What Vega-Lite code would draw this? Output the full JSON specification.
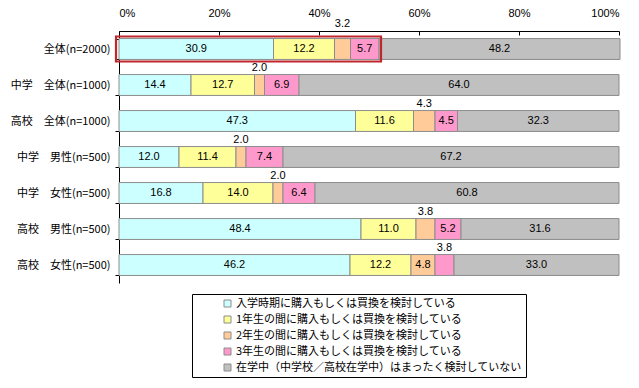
{
  "$schema": "https://vega.github.io/schema/vega-lite/v6.json",
  "width": 500,
  "height": 252,
  "autosize": {"type": "none"},
  "padding": {"left": 119, "top": 31, "right": 20, "bottom": 105},
  "background": "white",
  "config": {
    "view": {"stroke": null},
    "font": "Noto Sans CJK JP",
    "axis": {"labelColor": "black", "domainColor": "black", "tickColor": "black"}
  },
  "data": {
    "values": [
      {"group": "全体(n=2000)", "cat": "入学時期に購入もしくは買換を検討している", "k": 1, "value": 30.9},
      {"group": "全体(n=2000)", "cat": "1年生の間に購入もしくは買換を検討している", "k": 2, "value": 12.2},
      {"group": "全体(n=2000)", "cat": "2年生の間に購入もしくは買換を検討している", "k": 3, "value": 3.2},
      {"group": "全体(n=2000)", "cat": "3年生の間に購入もしくは買換を検討している", "k": 4, "value": 5.7},
      {"group": "全体(n=2000)", "cat": "在学中（中学校／高校在学中）はまったく検討していない", "k": 5, "value": 48.2},
      {"group": "中学　全体(n=1000)", "cat": "入学時期に購入もしくは買換を検討している", "k": 1, "value": 14.4},
      {"group": "中学　全体(n=1000)", "cat": "1年生の間に購入もしくは買換を検討している", "k": 2, "value": 12.7},
      {"group": "中学　全体(n=1000)", "cat": "2年生の間に購入もしくは買換を検討している", "k": 3, "value": 2.0},
      {"group": "中学　全体(n=1000)", "cat": "3年生の間に購入もしくは買換を検討している", "k": 4, "value": 6.9},
      {"group": "中学　全体(n=1000)", "cat": "在学中（中学校／高校在学中）はまったく検討していない", "k": 5, "value": 64.0},
      {"group": "高校　全体(n=1000)", "cat": "入学時期に購入もしくは買換を検討している", "k": 1, "value": 47.3},
      {"group": "高校　全体(n=1000)", "cat": "1年生の間に購入もしくは買換を検討している", "k": 2, "value": 11.6},
      {"group": "高校　全体(n=1000)", "cat": "2年生の間に購入もしくは買換を検討している", "k": 3, "value": 4.3},
      {"group": "高校　全体(n=1000)", "cat": "3年生の間に購入もしくは買換を検討している", "k": 4, "value": 4.5},
      {"group": "高校　全体(n=1000)", "cat": "在学中（中学校／高校在学中）はまったく検討していない", "k": 5, "value": 32.3},
      {"group": "中学　男性(n=500)", "cat": "入学時期に購入もしくは買換を検討している", "k": 1, "value": 12.0},
      {"group": "中学　男性(n=500)", "cat": "1年生の間に購入もしくは買換を検討している", "k": 2, "value": 11.4},
      {"group": "中学　男性(n=500)", "cat": "2年生の間に購入もしくは買換を検討している", "k": 3, "value": 2.0},
      {"group": "中学　男性(n=500)", "cat": "3年生の間に購入もしくは買換を検討している", "k": 4, "value": 7.4},
      {"group": "中学　男性(n=500)", "cat": "在学中（中学校／高校在学中）はまったく検討していない", "k": 5, "value": 67.2},
      {"group": "中学　女性(n=500)", "cat": "入学時期に購入もしくは買換を検討している", "k": 1, "value": 16.8},
      {"group": "中学　女性(n=500)", "cat": "1年生の間に購入もしくは買換を検討している", "k": 2, "value": 14.0},
      {"group": "中学　女性(n=500)", "cat": "2年生の間に購入もしくは買換を検討している", "k": 3, "value": 2.0},
      {"group": "中学　女性(n=500)", "cat": "3年生の間に購入もしくは買換を検討している", "k": 4, "value": 6.4},
      {"group": "中学　女性(n=500)", "cat": "在学中（中学校／高校在学中）はまったく検討していない", "k": 5, "value": 60.8},
      {"group": "高校　男性(n=500)", "cat": "入学時期に購入もしくは買換を検討している", "k": 1, "value": 48.4},
      {"group": "高校　男性(n=500)", "cat": "1年生の間に購入もしくは買換を検討している", "k": 2, "value": 11.0},
      {"group": "高校　男性(n=500)", "cat": "2年生の間に購入もしくは買換を検討している", "k": 3, "value": 3.8},
      {"group": "高校　男性(n=500)", "cat": "3年生の間に購入もしくは買換を検討している", "k": 4, "value": 5.2},
      {"group": "高校　男性(n=500)", "cat": "在学中（中学校／高校在学中）はまったく検討していない", "k": 5, "value": 31.6},
      {"group": "高校　女性(n=500)", "cat": "入学時期に購入もしくは買換を検討している", "k": 1, "value": 46.2},
      {"group": "高校　女性(n=500)", "cat": "1年生の間に購入もしくは買換を検討している", "k": 2, "value": 12.2},
      {"group": "高校　女性(n=500)", "cat": "2年生の間に購入もしくは買換を検討している", "k": 3, "value": 4.8},
      {"group": "高校　女性(n=500)", "cat": "3年生の間に購入もしくは買換を検討している", "k": 4, "value": 3.8},
      {"group": "高校　女性(n=500)", "cat": "在学中（中学校／高校在学中）はまったく検討していない", "k": 5, "value": 33.0}
    ]
  },
  "transform": [
    {"stack": "value", "groupby": ["group"], "sort": [{"field": "k"}], "as": ["v0", "v1"]},
    {"calculate": "(datum.v0 + datum.v1) / 2", "as": "mid"}
  ],
  "encoding": {
    "y": {
      "field": "group",
      "type": "nominal",
      "sort": ["全体(n=2000)", "中学　全体(n=1000)", "高校　全体(n=1000)", "中学　男性(n=500)", "中学　女性(n=500)", "高校　男性(n=500)", "高校　女性(n=500)"],
      "scale": {"paddingInner": 0.42, "paddingOuter": 0.21},
      "axis": {
        "title": null,
        "tickBand": "extent",
        "tickSize": 4,
        "labelFontSize": 11,
        "labelPadding": 5,
        "domainColor": "black"
      }
    }
  },
  "layer": [
    {
      "mark": {"type": "bar", "stroke": "#8c8c8c", "strokeWidth": 1},
      "encoding": {
        "x": {
          "field": "v0",
          "type": "quantitative",
          "scale": {"domain": [0, 100], "nice": false},
          "axis": {
            "orient": "top",
            "title": null,
            "values": [0, 20, 40, 60, 80, 100],
            "labelExpr": "datum.value + '%'",
            "grid": false,
            "tickSize": -4,
            "labelPadding": 17,
            "labelFontSize": 11,
            "labelFont": "Liberation Sans"
          }
        },
        "x2": {"field": "v1"},
        "color": {
          "field": "cat",
          "type": "nominal",
          "scale": {
            "domain": ["入学時期に購入もしくは買換を検討している", "1年生の間に購入もしくは買換を検討している", "2年生の間に購入もしくは買換を検討している", "3年生の間に購入もしくは買換を検討している", "在学中（中学校／高校在学中）はまったく検討していない"],
            "range": ["#CCFFFF", "#FFFF99", "#FFCC99", "#FF99CC", "#C0C0C0"]
          },
          "legend": {
            "title": null,
            "orient": "none",
            "legendX": 73,
            "legendY": 263,
            "direction": "vertical",
            "strokeColor": "black",
            "fillColor": "white",
            "padding": 4,
            "rowPadding": 4,
            "symbolType": "square",
            "symbolSize": 49,
            "symbolStrokeColor": "#8c8c8c",
            "symbolStrokeWidth": 1,
            "symbolOffset": 26,
            "labelOffset": 3,
            "labelFontSize": 11,
            "labelFont": "Noto Sans CJK JP",
            "labelColor": "black",
            "labelLimit": 400
          }
        },
        "order": {"field": "k"}
      }
    },
    {
      "transform": [{"filter": "datum.value >= 4.4"}],
      "mark": {"type": "text", "fontSize": 11, "font": "Liberation Sans", "color": "black", "baseline": "middle"},
      "encoding": {
        "x": {"field": "mid", "type": "quantitative"},
        "text": {"field": "value", "type": "quantitative", "format": ".1f"}
      }
    },
    {
      "transform": [{"filter": "datum.value < 4.4 && datum.group != '全体(n=2000)'"}],
      "mark": {"type": "text", "fontSize": 11, "font": "Liberation Sans", "color": "black", "baseline": "middle", "dy": -17},
      "encoding": {
        "x": {"field": "mid", "type": "quantitative"},
        "text": {"field": "value", "type": "quantitative", "format": ".1f"}
      }
    },
    {
      "transform": [{"filter": "datum.value < 4.4 && datum.group == '全体(n=2000)'"}],
      "mark": {"type": "text", "fontSize": 11, "font": "Liberation Sans", "color": "black", "baseline": "middle", "dy": -25},
      "encoding": {
        "x": {"field": "mid", "type": "quantitative"},
        "text": {"field": "value", "type": "quantitative", "format": ".1f"}
      }
    },
    {
      "transform": [
        {"filter": "datum.group == '全体(n=2000)' && datum.k <= 4"},
        {"aggregate": [{"op": "min", "field": "v0", "as": "lo"}, {"op": "max", "field": "v1", "as": "hi"}], "groupby": ["group"]}
      ],
      "mark": {"type": "bar", "size": 25, "fillOpacity": 0, "fill": "white", "stroke": "#C0272D", "strokeWidth": 2.2, "xOffset": -3, "x2Offset": 2},
      "encoding": {
        "x": {"field": "lo", "type": "quantitative"},
        "x2": {"field": "hi"}
      }
    }
  ]
}
